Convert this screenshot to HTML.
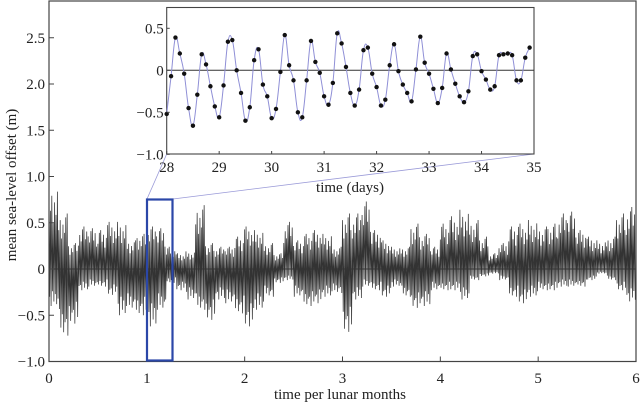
<!DOCTYPE html>
<html><head><meta charset="utf-8"><style>
html,body{margin:0;padding:0;background:#fff}
svg{display:block}
text{font-family:"Liberation Serif",serif;fill:#222}
</style></head><body>
<svg id="chart" width="640" height="403" viewBox="0 0 640 403">
<g id="main"></g>
<g id="inset"></g>
</svg>
<script>
// Main series envelope per 0.1-month bin (upper, lower), metres
const mainUpper=[0.9,0.6,0.28,0.46,0.44,0.42,0.51,0.51,0.31,0.38,0.46,0.44,0.24,0.17,0.19,0.69,0.28,0.24,0.24,0.35,0.46,0.42,0.28,0.17,0.51,0.31,0.38,0.42,0.38,0.24,0.6,0.6,0.73,0.42,0.31,0.24,0.24,0.49,0.38,0.24,0.49,0.57,0.64,0.53,0.35,0.17,0.28,0.46,0.49,0.53,0.46,0.49,0.6,0.62,0.42,0.35,0.31,0.35,0.6,0.67];
const mainLower=[-0.4,-0.72,-0.59,-0.23,-0.19,-0.19,-0.28,-0.5,-0.44,-0.5,-0.62,-0.44,-0.15,-0.23,-0.33,-0.44,-0.55,-0.33,-0.37,-0.48,-0.62,-0.44,-0.3,-0.15,-0.12,-0.3,-0.4,-0.37,-0.3,-0.26,-0.68,-0.33,-0.19,-0.23,-0.3,-0.19,-0.3,-0.42,-0.4,-0.23,-0.23,-0.23,-0.33,-0.12,-0.08,-0.05,-0.12,-0.3,-0.37,-0.3,-0.23,-0.23,-0.19,-0.19,-0.19,-0.12,-0.05,-0.12,-0.23,-0.35];
const mainXTicks=[0,1,2,3,4,5,6];
const mainYTicks=[-1.0,-0.5,0,0.5,1.0,1.5,2.0,2.5];
const mainYLabels=["−1.0","−0.5","0","0.5","1.0","1.5","2.0","2.5"];
// Inset: 2-hourly samples from day 28
const insetVals=[-0.52,-0.07,0.39,0.20,-0.04,-0.45,-0.66,-0.29,0.19,0.07,-0.19,-0.43,-0.56,-0.18,0.34,0.36,0,-0.27,-0.60,-0.44,0.12,0.25,-0.17,-0.31,-0.57,-0.46,-0.02,0.42,0.06,-0.12,-0.50,-0.56,-0.12,0.35,0.10,-0.03,-0.31,-0.41,-0.15,0.44,0.32,0.04,-0.27,-0.42,-0.23,0.24,0.27,-0.04,-0.20,-0.42,-0.35,0.06,0.31,-0.01,-0.17,-0.27,-0.37,0.01,0.40,0.09,-0.04,-0.22,-0.39,-0.21,0.20,0.01,-0.16,-0.31,-0.38,-0.25,0.17,0.19,-0.01,-0.11,-0.23,-0.19,0.18,0.19,0.20,0.18,-0.12,-0.12,0.15,0.27];
const insetXTicks=[28,29,30,31,32,33,34,35];
const insetYTicks=[-1.0,-0.5,0,0.5];
const insetYLabels=["−1.0","−0.5","0","0.5"];

const NS="http://www.w3.org/2000/svg";
function mk(parent,tag,attrs,txt){const e=document.createElementNS(NS,tag);for(const k in attrs)e.setAttribute(k,attrs[k]);if(txt!==undefined)e.textContent=txt;parent.appendChild(e);return e;}
const main=document.getElementById('main'),inset=document.getElementById('inset');
const L=49,R=636,T=1,B=361.5;
const mx=v=>L+(v/6)*(R-L);
const my=v=>269-v*92.5;
let d="";const per=7;const pat=[1,0.7,0.88,0.55,0.8,0.65,0.93];const patL=[0.75,1,0.6,0.88,0.68,0.95,0.8];
for(let i=0;i<mainUpper.length;i++){
  for(let k=0;k<per;k++){
    const t0=(i+k/per)*0.1, t1=(i+(k+0.5)/per)*0.1;
    const up=mainUpper[i]*pat[(k+i)%7], lo=mainLower[i]*patL[(k+2*i)%7];
    d+=(d?"L":"M")+mx(t0).toFixed(2)+","+my(up).toFixed(2)+"L"+mx(t1).toFixed(2)+","+my(lo).toFixed(2);
  }
}
const s=mk(main,'path',{d:d,fill:'none',stroke:'#333','stroke-width':0.75});


const zl=mk(main,'line',{x1:L,x2:R,y1:my(0),y2:my(0),stroke:'#333','stroke-width':1});


const fr=mk(main,'rect',{x:L,y:T,width:R-L,height:B-T,fill:'none',stroke:'#444','stroke-width':1.2});


mainXTicks.forEach(v=>{
  mk(main,'line',{x1:mx(v),x2:mx(v),y1:B,y2:B-5,stroke:'#444'});
  const t=mk(main,'text',{x:mx(v),y:383,'font-size':15,'text-anchor':'middle'},String(v));
  
  
});
mainYTicks.forEach((v,i)=>{
  mk(main,'line',{x1:L,x2:L+5,y1:my(v),y2:my(v),stroke:'#444'});
  const t=mk(main,'text',{x:L-4,y:my(v)+5,'font-size':15,'text-anchor':'end'},mainYLabels[i]);
  
  
});
const xt=mk(main,'text',{x:340,y:399,'font-size':15,'text-anchor':'middle'},'time per lunar months');


const yt=mk(main,'text',{x:0,y:0,'font-size':15,'text-anchor':'middle',transform:'translate(16,185) rotate(-90)'},'mean sea-level offset (m)');


const c1=mk(main,'line',{x1:166.7,y1:154,x2:147,y2:199,stroke:'#9a9ad8','stroke-width':0.8});


const c2=mk(main,'line',{x1:534,y1:154,x2:173,y2:199,stroke:'#9a9ad8','stroke-width':0.8});


const hb=mk(main,'rect',{x:147,y:199.5,width:25.5,height:161,fill:'none',stroke:'#2b47a8','stroke-width':2.2});


const iL=166.7,iR=534,iT=7.5,iB=154;
const ix=v=>iL+(v-28)*(iR-iL)/7;
const iy=v=>70.3-v*84;
mk(inset,'rect',{x:iL,y:iT,width:iR-iL,height:iB-iT,fill:'#fff',stroke:'#444','stroke-width':1.1});
const pts=insetVals.map((v,i)=>[ix(28+i/12),iy(v)]);
let cd="M"+pts[0][0]+","+pts[0][1];
for(let i=0;i<pts.length-1;i++){
  const p0=pts[Math.max(0,i-1)],p1=pts[i],p2=pts[i+1],p3=pts[Math.min(pts.length-1,i+2)];
  const a=[p1[0]+(p2[0]-p0[0])/5,p1[1]+(p2[1]-p0[1])/5],b=[p2[0]-(p3[0]-p1[0])/5,p2[1]-(p3[1]-p1[1])/5];
  cd+="C"+a[0].toFixed(2)+","+a[1].toFixed(2)+" "+b[0].toFixed(2)+","+b[1].toFixed(2)+" "+p2[0].toFixed(2)+","+p2[1].toFixed(2);
}
const zl2=mk(inset,'line',{x1:iL,x2:iR,y1:iy(0),y2:iy(0),stroke:'#333','stroke-width':1});


const ic=mk(inset,'path',{d:cd,fill:'none',stroke:'#8f8fd6','stroke-width':1});


pts.forEach(p=>{
  const c=mk(inset,'circle',{cx:p[0],cy:p[1],r:2.2,fill:'#111'});
  
  
});
insetXTicks.forEach(v=>{
  mk(inset,'line',{x1:ix(v),x2:ix(v),y1:iB,y2:iB-3,stroke:'#444'});
  const t=mk(inset,'text',{x:ix(v),y:172,'font-size':15,'text-anchor':'middle'},String(v));
  
  
});
insetYTicks.forEach((v,i)=>{
  mk(inset,'line',{x1:iL,x2:iL+3,y1:iy(v),y2:iy(v),stroke:'#444'});
  const t=mk(inset,'text',{x:iL-3,y:iy(v)+5,'font-size':15,'text-anchor':'end'},insetYLabels[i]);
  
  
});
const it=mk(inset,'text',{x:350,y:192,'font-size':15,'text-anchor':'middle'},'time (days)');


</script>
</body></html>
